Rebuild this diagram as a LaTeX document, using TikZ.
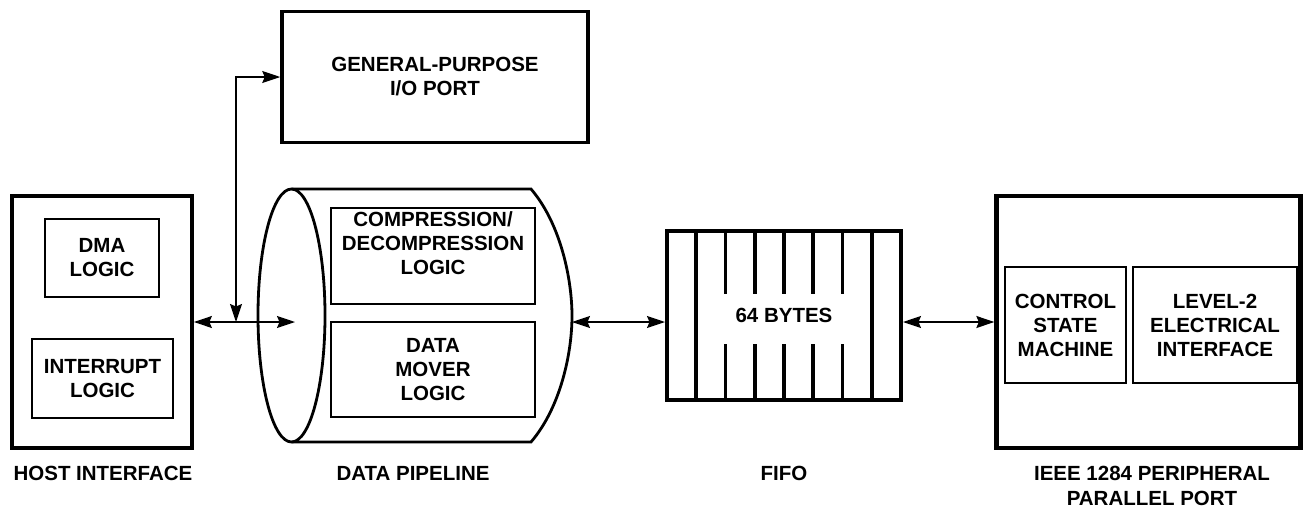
\documentclass[tikz,border=0pt]{standalone}
\usepackage{fontspec}
\setmainfont{Liberation Sans}
\usetikzlibrary{arrows.meta}
\begin{document}
\begin{tikzpicture}[x=1pt,y=-1pt,
    every node/.style={font=\bfseries\fontsize{20.5}{24}\selectfont, align=center, inner sep=0pt},
    bigbox/.style={draw, line width=4.3pt, minimum width=#1, minimum height=252pt},
    inbox/.style={draw, line width=1.7pt},
    link/.style={line width=1.4pt, >={Stealth[length=18pt,width=12pt,inset=2.5pt]}}]
    \path[use as bounding box, fill=white] (0,0) rectangle (1303,512);
    \node[bigbox=179.5pt] (host) at (102,322) {};
    \node[inbox, minimum width=114pt, minimum height=78pt] (dma) at (102,258) {DMA\\LOGIC};
    \node[inbox, minimum width=141pt, minimum height=79pt] (intr) at (102.5,378.5) {INTERRUPT\\LOGIC};
    \node (hostlbl) at (103,473) {HOST INTERFACE};
    \node[draw, line width=3.5pt, minimum width=306pt, minimum height=131pt] (gpio) at (435,77) {GENERAL-PURPOSE\\I/O PORT};
    \draw (291.5,189) -- (531,189) .. controls (561,224) and (572,280) .. (572,316) .. controls (572,352) and (561,407) .. (531,442) -- (291.5,442) [line width=2.8pt];
    \draw (291.5,315.5) ellipse [x radius=33.5, y radius=126.5] [line width=2.8pt];
    \node[inbox, minimum width=204pt, minimum height=96pt, label={[anchor=north, yshift=-4pt]north:COMPRESSION/\\DECOMPRESSION\\LOGIC}] (cmp) at (433,256) {};
    \node[inbox, minimum width=204pt, minimum height=95pt] (mover) at (433,369.5) {DATA\\MOVER\\LOGIC};
    \node (pipelbl) at (413,473) {DATA PIPELINE};
    \coordinate (tap) at (236,322);
    \coordinate (pipein) at (295,322);
    \coordinate (pipeout) at (572,322);
    \node[draw, line width=4pt, minimum width=234pt, minimum height=169pt] (fifo) at (784,315.5) {64 BYTES};
    \foreach \k in {1,7}
        \draw (667+29.25*\k,231) -- (667+29.25*\k,400) [line width=3.6pt];
    \foreach \k in {2,...,6} {
        \draw (667+29.25*\k,231) -- (667+29.25*\k,294) [line width=3.6pt];
        \draw (667+29.25*\k,344) -- (667+29.25*\k,400) [line width=3.6pt];
    }
    \node (fifolbl) at (784,473) {FIFO};
    \node[bigbox=304pt] (periph) at (1148.5,322) {};
    \node[inbox, minimum width=121pt, minimum height=116pt] (ctrl) at (1065.5,325) {CONTROL\\STATE\\MACHINE};
    \node[inbox, minimum width=164pt, minimum height=116pt] (lvl2) at (1215,325) {LEVEL-2\\ELECTRICAL\\INTERFACE};
    \node[font=\bfseries\fontsize{20.5}{25}\selectfont] (periphlbl) at (1152,485.5) {IEEE 1284 PERIPHERAL\\PARALLEL PORT};
    \draw[link, <->] (host.east) -- (pipein);
    \draw[link, <->] (tap) |- (gpio.west);
    \draw[link, <->] (pipeout) -- (pipeout -| fifo.west);
    \draw[link, <->] (fifo.east |- pipeout) -- (periph.west);
\end{tikzpicture}
\end{document}
